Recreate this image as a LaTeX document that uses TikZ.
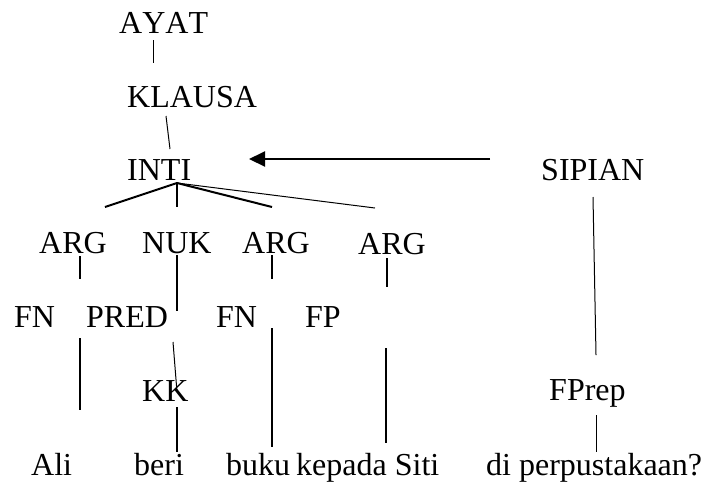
\documentclass[tikz,border=0pt]{standalone}
\usepackage{fontspec}
\setmainfont[Kerning=Off]{Liberation Serif}
\usetikzlibrary{arrows.meta}
\begin{document}
\begin{tikzpicture}[x=1pt,y=-1pt,
  lbl/.style={anchor=base west,inner sep=0pt,font=\fontsize{32}{36}\selectfont},
  thin/.style={line width=1pt},
  thick2/.style={line width=2pt}]
\useasboundingbox[fill=white] (0,0) rectangle (708,483);
% labels
\node[lbl] (ayat) at (119,33) {AYAT};
\node[lbl] (klausa) at (127,107) {KLAUSA};
\node[lbl] (inti) at (127,180) {INTI};
\node[lbl] (sipian) at (541,180) {SIPIAN};
\node[lbl] (arg1) at (39,253) {ARG};
\node[lbl] (nuk) at (142,253) {NUK};
\node[lbl] (arg2) at (242,253) {ARG};
\node[lbl] (arg3) at (358,254) {ARG};
\node[lbl] (fn1) at (14,327) {FN};
\node[lbl] (pred) at (86,327) {PRED};
\node[lbl] (fn2) at (216,327) {FN};
\node[lbl] (fp) at (305,327) {FP};
\node[lbl] (kk) at (142,401) {KK};
\node[lbl] (fprep) at (549,400) {FPrep};
\node[lbl] (ali) at (31,475) {Ali};
\node[lbl] (beri) at (134,475) {beri};
\node[lbl] (buku) at (226,475) {buku};
\node[lbl] (kepada) at (296,475) {kepada Siti};
\node[lbl] (diperp) at (486,475) {di perpustakaan?};
% line end points
\coordinate (a1) at (153,40);   \coordinate (a2) at (153,63);
\coordinate (k1) at (166,116);  \coordinate (k2) at (170,149);
\coordinate (apex) at (177,183);
\coordinate (t1) at (105,207);  \coordinate (t2) at (177,207);
\coordinate (t3) at (272,207);  \coordinate (t4) at (375,208);
\coordinate (r1) at (490,159);  \coordinate (r2) at (249,159);
\coordinate (g1a) at (80,256);  \coordinate (g1b) at (80,279);
\coordinate (na) at (177,255);  \coordinate (nb) at (177,311);
\coordinate (g2a) at (272,255); \coordinate (g2b) at (272,279);
\coordinate (g3a) at (387,258); \coordinate (g3b) at (387,287);
\coordinate (f1a) at (80,338);  \coordinate (f1b) at (80,410);
\coordinate (pa) at (173,342);  \coordinate (pb) at (177,392);
\coordinate (kka) at (177,407); \coordinate (kkb) at (177,452);
\coordinate (f2a) at (272,328); \coordinate (f2b) at (272,447);
\coordinate (fpa) at (386,348); \coordinate (fpb) at (386,443);
\coordinate (sa) at (593,197);  \coordinate (sb) at (596,355);
\coordinate (fra) at (596,415); \coordinate (frb) at (596,452);
% connectors
\draw[thin] (a1) -- (a2);
\draw[thin] (k1) -- (k2);
\draw[thick2] (apex) -- (t1);
\draw[thick2] (apex) -- (t2);
\draw[thick2] (apex) -- (t3);
\draw[thin] (apex) -- (t4);
\draw[thick2,-{Triangle[length=16pt,width=15pt]}] (r1) -- (r2);
\draw[thick2] (g1a) -- (g1b);
\draw[thick2] (na) -- (nb);
\draw[thick2] (g2a) -- (g2b);
\draw[thick2] (g3a) -- (g3b);
\draw[thick2] (f1a) -- (f1b);
\draw[thin] (pa) -- (pb);
\draw[thick2] (kka) -- (kkb);
\draw[thick2] (f2a) -- (f2b);
\draw[thick2] (fpa) -- (fpb);
\draw[thin] (sa) -- (sb);
\draw[thin] (fra) -- (frb);
\end{tikzpicture}
\end{document}
